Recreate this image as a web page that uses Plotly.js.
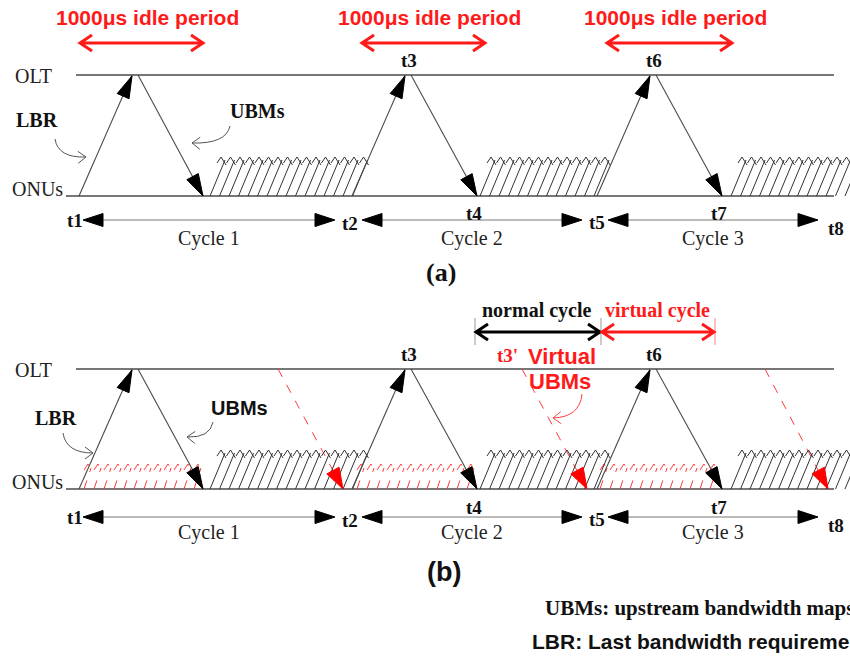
<!DOCTYPE html>
<html><head><meta charset="utf-8">
<script src="https://cdn.plot.ly/plotly-3.0.1.min.js"></script>
<style>html,body{margin:0;padding:0;background:#fff}</style>
</head><body><div id="chart" style="width:850px;height:660px"></div>
<script>
// ---- diagram data (time positions along the shared horizontal time axis) ----
const lbrStartT = [79, 352, 597];          // ONU sends LBR
const peakT = [132, 405, 650];             // OLT receives LBR (t3, t6)
const peakLabels = ["", "t3", "t6"];
const ubmEndT = [203, 477, 722];           // UBMs arrive at ONUs (t4, t7)
const arrivalLabels = ["", "t4", "t7"];
const hatchStartT = [210, 480, 731];       // upstream transmission blocks
const hatchCounts = [16, 13, 13];
const cycleStartT = [83, 362, 608];
const cycleEndT = [335, 582, 818];
const cycleLabels = ["Cycle 1", "Cycle 2", "Cycle 3"];
const boundaryT = [75, 350, 597, 836];
const boundaryLabels = ["t1", "t2", "t5", "t8"];
const idleStartT = [80, 362, 607];
const idleEndT = [203, 485, 732];
const idleLabel = "1000μs idle period";
const virtualStartT = [278, 522, 765];     // virtual UBMs leave OLT
const virtualEndT = [343, 587, 828];       // virtual UBMs reach ONUs
const virtualHatchStartT = [84, 357, 600];
const virtualHatchCounts = [12, 12, 12];

// ---- drawing helpers ----
const shapes = [], annotations = [], traces = [];
const SERIF = "Liberation Serif, Times New Roman, serif";
const SANS = "Liberation Sans, Arial, sans-serif";
function seg(x0, y0, x1, y1, color, width, dash) {
  traces.push({type: 'scatter', mode: 'lines', x: [x0, x1], y: [y0, y1], hoverinfo: 'skip',
    line: {color: color, width: width, dash: dash || 'solid'}});
}
function multi(xs, ys, color, width, dash) {
  traces.push({type: 'scatter', mode: 'lines', x: xs, y: ys, hoverinfo: 'skip', connectgaps: false,
    line: {color: color, width: width, dash: dash || 'solid'}});
}
function tri(tx, ty, fx, fy, len, hw, color) {
  const dx = tx - fx, dy = ty - fy, L = Math.hypot(dx, dy);
  const ux = dx / L, uy = dy / L;
  const bx = tx - ux * len, by = ty - uy * len;
  const px = -uy * hw, py = ux * hw;
  shapes.push({type: 'path', xref: 'x', yref: 'y', layer: 'above',
    path: `M ${tx} ${ty} L ${bx + px} ${by + py} L ${bx - px} ${by - py} Z`,
    fillcolor: color, line: {color: color, width: 1}});
}
function pathShape(p, color, width) {
  shapes.push({type: 'path', xref: 'x', yref: 'y', layer: 'above', path: p, line: {color: color, width: width}});
}
function text(x, y, t, size, color, family, bold, anchor) {
  annotations.push({x: x, y: y, xref: 'x', yref: 'y', text: bold ? `<b>${t}</b>` : t, showarrow: false,
    font: {size: size, color: color, family: family}, xanchor: anchor || 'center', yanchor: 'middle'});
}
function dblChevron(x1, x2, y, color, w) {
  pathShape(`M ${x1 + 12} ${y - 8} L ${x1} ${y} L ${x1 + 12} ${y + 8} M ${x1} ${y} L ${x2} ${y} M ${x2 - 12} ${y - 8} L ${x2} ${y} L ${x2 - 12} ${y + 8}`, color, w);
}
function curveArrow(x0, y0, cx, cy, x1, y1, color) {
  pathShape(`M ${x0} ${y0} Q ${cx} ${cy} ${x1} ${y1}`, color, 1);
  const dx = x1 - cx, dy = y1 - cy, L = Math.hypot(dx, dy), ux = dx / L, uy = dy / L;
  const bx = x1 - ux * 8, by = y1 - uy * 8, px = -uy * 6, py = ux * 6;
  pathShape(`M ${bx + px} ${by + py} L ${x1} ${y1} L ${bx - px} ${by - py}`, color, 1);
}

const LINE = '#4a4a4a';
function drawPanel(g, virtual) {
  // OLT / ONU axes
  seg(76, g.olt, 834, g.olt, LINE, 1.3);
  seg(66, g.onu, 834, g.onu, LINE, 1.3);
  text(13, g.olt + 1, 'OLT', 20, '#222', SERIF, false, 'left');
  text(10, g.onu - 7, 'ONUs', 20, '#222', SERIF, false, 'left');

  // virtual (red dashed) transmissions
  if (virtual) {
    for (let i = 0; i < 3; i++) {
      const xs = [], ys = [], zx = [], zy = [];
      for (let j = 0; j < virtualHatchCounts[i]; j++) {
        const xb = virtualHatchStartT[i] + j * 10, xt = xb + 7, yt = g.vtop;
        xs.push(xb, xt, null); ys.push(g.onu, yt, null);
        zx.push(xt - 7, xt - 3, xt + 1, null); zy.push(yt + 2, yt - 4, yt + 4, null);
      }
      multi(xs, ys, '#ff3b3b', 1, 'dash');
      multi(zx, zy, '#ff3b3b', 1, 'dash');
      seg(virtualStartT[i], g.olt, virtualEndT[i], g.onu, '#ff3b3b', 1, 'dash');
      tri(virtualEndT[i], g.onu, virtualStartT[i], g.olt, 21, 7, '#ff0000');
    }
  }

  for (let i = 0; i < 3; i++) {
    // LBR up
    seg(lbrStartT[i], g.onu, peakT[i], g.olt, LINE, 1.1);
    tri(peakT[i], g.olt + 1, lbrStartT[i], g.onu, 22, 6.5, '#000');
    // UBMs down
    seg(peakT[i] + 6, g.olt, ubmEndT[i], g.onu, LINE, 1.1);
    tri(ubmEndT[i], g.onu, peakT[i] + 6, g.olt, 22, 6.5, '#000');
    if (peakLabels[i]) text(peakT[i] + 4, g.olt - 15, peakLabels[i], 19, '#111', SERIF, true);
    if (arrivalLabels[i]) text(ubmEndT[i] - 3, g.arrRow, arrivalLabels[i], 19, '#111', SERIF, true);

    // upstream transmission hatch
    const xs = [], ys = [], zx = [], zy = [];
    for (let j = 0; j < hatchCounts[i]; j++) {
      const xb = hatchStartT[i] + j * 9.5, xt = xb + 15, yt = g.htop;
      xs.push(xb, xt, null); ys.push(g.onu, yt, null);
      zx.push(xt - 8, xt - 4, xt + 1, null); zy.push(yt + 3, yt - 3, yt + 5, null);
    }
    multi(xs, ys, '#333', 1);
    multi(zx, zy, '#333', 1);

    // cycle arrows
    seg(cycleStartT[i] + 10, g.row, cycleEndT[i] - 10, g.row, '#777', 1);
    tri(cycleStartT[i], g.row, cycleStartT[i] + 20, g.row, 20, 6.5, '#000');
    tri(cycleEndT[i], g.row, cycleEndT[i] - 20, g.row, 20, 6.5, '#000');
    text((cycleStartT[i] + cycleEndT[i]) / 2, g.cycRow, cycleLabels[i], 20, '#222', SERIF, false);
  }
  const offs = [0, 3, 2, 8];
  for (let k = 0; k < 4; k++) text(boundaryT[k], g.row + offs[k], boundaryLabels[k], 19, '#111', SERIF, true);
}

const panelA = {olt: 75, onu: 196, htop: 160, row: 220, arrRow: 213, cycRow: 238};
const panelB = {olt: 369, onu: 489, htop: 453, vtop: 468, row: 517, arrRow: 507, cycRow: 532};
drawPanel(panelA, false);
drawPanel(panelB, true);

// panel (a) idle periods
for (let i = 0; i < 3; i++) {
  dblChevron(idleStartT[i], idleEndT[i], 43, '#ff1a1a', 3);
  text((idleStartT[i] + idleEndT[i]) / 2 + 6, 17, idleLabel, 21, '#ff1a1a', SANS, true);
}
text(37, 120, 'LBR', 20, '#111', SERIF, true);
text(257, 111, 'UBMs', 20, '#111', SERIF, true);
curveArrow(55, 139, 58, 158, 86, 157, '#555');
curveArrow(230, 126, 226, 144, 192, 143, '#555');
text(441, 272, '(a)', 26, '#111', SERIF, true);

// panel (b) annotations
text(56, 418, 'LBR', 20, '#111', SERIF, true);
text(239, 408, 'UBMs', 20, '#111', SANS, true);
curveArrow(63, 433, 66, 453, 93, 453, '#555');
curveArrow(213, 422, 210, 438, 187, 437, '#555');
[475, 601].forEach(x => pathShape(`M ${x} 318 L ${x} 345`, '#999', 1));
pathShape('M 715 318 L 715 345', '#ff8080', 1);
dblChevron(476, 600, 332, '#000', 3);
dblChevron(602, 714, 332, '#ff1a1a', 3);
text(537, 310, 'normal cycle', 20, '#111', SERIF, true);
text(657, 310, 'virtual cycle', 20, '#ff1a1a', SERIF, true);
text(507, 355, "t3'", 19, '#ff1a1a', SERIF, true);
text(562, 356, 'Virtual', 22, '#ff1a1a', SANS, true);
text(560, 381, 'UBMs', 22, '#ff1a1a', SANS, true);
curveArrow(582, 394, 580, 417, 553, 418, '#ff4040');
text(444, 572, '(b)', 27, '#111', SANS, true);

// legend notes (run off the right edge as in the source figure)
text(543, 608, 'UBMs: upstream bandwidth maps', 21, '#111', SERIF, true, 'left');
text(530, 641, 'LBR: Last bandwidth requirement', 21, '#111', SANS, true, 'left');

const layout = {
  width: 850, height: 660, margin: {l: 0, r: 0, t: 0, b: 0},
  paper_bgcolor: '#fff', plot_bgcolor: '#fff', showlegend: false,
  xaxis: {range: [0, 850], visible: false, fixedrange: true},
  yaxis: {range: [660, 0], visible: false, fixedrange: true},
  shapes: shapes, annotations: annotations, hovermode: false
};
Plotly.newPlot('chart', traces, layout, {staticPlot: true, displayModeBar: false});
</script></body></html>
